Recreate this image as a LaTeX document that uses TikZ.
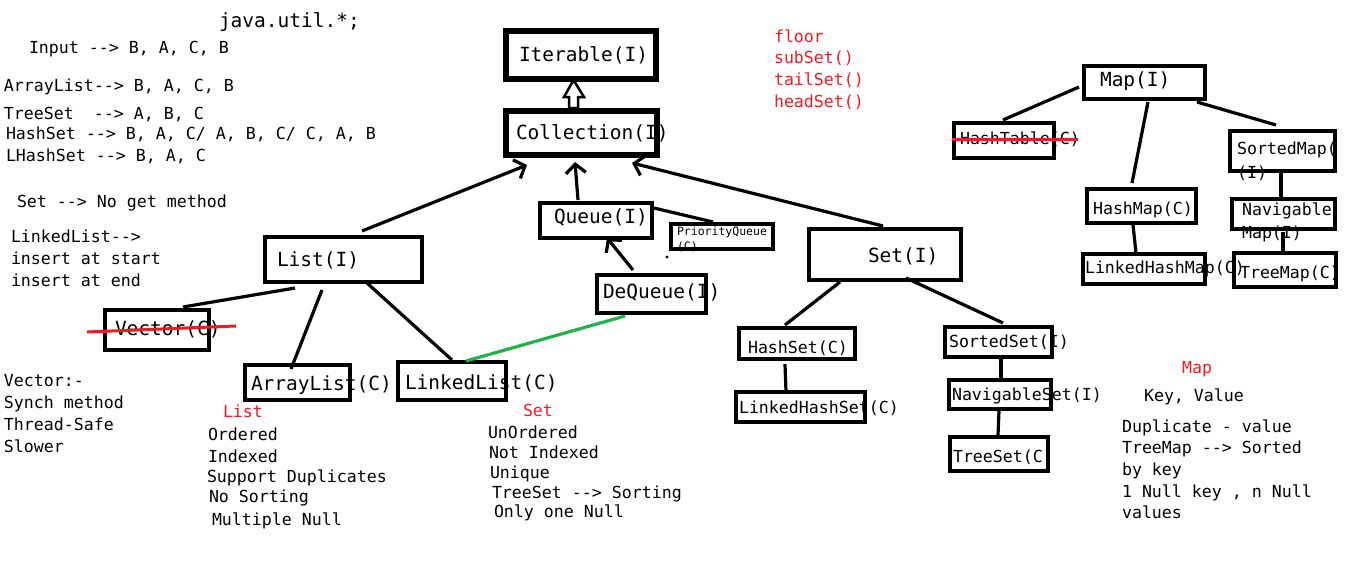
\documentclass[tikz,border=0pt]{standalone}
\usepackage{fontspec}
\setmonofont{DejaVu Sans Mono}
\usetikzlibrary{arrows.meta,calc,fit}
\definecolor{pred}{RGB}{237,28,36}
\definecolor{pgreen}{RGB}{34,177,76}
\tikzset{
 box/.style={draw, line width=3.5pt, inner sep=0pt, outer sep=0pt},
 bigbox/.style={box, line width=6pt},
 lbl/.style={anchor=base west, inner sep=0pt, outer sep=0pt, font=\ttfamily\fontsize{16.6}{20}\selectfont},
 biglbl/.style={lbl, font=\ttfamily\fontsize{19.5}{23}\selectfont},
 tinylbl/.style={lbl, font=\ttfamily\fontsize{11.5}{14}\selectfont},
 rednote/.style={lbl, text=pred},
 conn/.style={line width=3.2pt},
 arr/.style={conn, -{Straight Barb[length=9pt,width=20pt]}},
 strike/.style={pred, line width=3pt},
 hollow/.style={line width=2.5pt, fill=white, line join=miter},
}
\begin{document}
\begin{tikzpicture}[x=1pt,y=-1pt]
\useasboundingbox (0,0) rectangle (1360,568);
% ---------- boxes ----------
\node[bigbox, fit={(506,31) (656,79)}] (iter) {};
\node[bigbox, fit={(506,111) (657,155)}] (coll) {};
\node[box, fit={(540,203) (652,238)}] (queue) {};
\node[box, fit={(671,224) (773,249)}] (pq) {};
\node[box, fit={(597,275) (706,313)}] (deq) {};
\node[box, fit={(809,229) (961,280)}] (setI) {};
\node[box, fit={(265,237) (422,282)}] (list) {};
\node[box, fit={(105,310) (209,350)}] (vec) {};
\node[box, fit={(245,365) (350,400)}] (arr) {};
\node[box, fit={(398,362) (506,400)}] (ll) {};
\node[box, fit={(739,328) (855,359)}] (hs) {};
\node[box, fit={(736,392) (865,422)}] (lhs) {};
\node[box, fit={(945,327) (1052,357)}] (ss) {};
\node[box, fit={(949,380) (1051,409)}] (ns) {};
\node[box, fit={(950,437) (1048,471)}] (ts) {};
\node[box, fit={(1084,66) (1205,99)}] (map) {};
\node[box, fit={(954,123) (1054,158)}] (ht) {};
\node[box, fit={(1230,131) (1335,171)}] (sm) {};
\node[box, fit={(1087,189) (1196,223)}] (hm) {};
\node[box, fit={(1083,254) (1205,284)}] (lhm) {};
\node[box, fit={(1232,199) (1335,229)}] (nm) {};
\node[box, fit={(1234,253) (1336,287)}] (tm) {};
% ---------- box labels ----------
\node[biglbl] (tIter) at (519,61) {Iterable(I)};
\node[biglbl] (tColl) at (516,139) {Collection(I)};
\node[biglbl] (tQueue) at (554,223) {Queue(I)};
\node[tinylbl] (tPq1) at (677,235) {PriorityQueue};
\node[tinylbl] (tPq2) at (677,250) {(C)};
\node[biglbl] (tDeq) at (603,298) {DeQueue(I)};
\node[biglbl] (tSet) at (868,262) {Set(I)};
\node[biglbl] (tList) at (277,266) {List(I)};
\node[biglbl] (tVec) at (115,335) {Vector(C)};
\node[biglbl] (tArr) at (251,390) {ArrayList(C)};
\node[biglbl] (tLl) at (405,389) {LinkedList(C)};
\node[lbl] (tHs) at (748,353) {HashSet(C)};
\node[lbl] (tLhs) at (739,413) {LinkedHashSet(C)};
\node[lbl] (tSs) at (949,347) {SortedSet(I)};
\node[lbl] (tNs) at (952,400) {NavigableSet(I)};
\node[lbl] (tTs) at (953,462) {TreeSet(C)};
\node[biglbl] (tMap) at (1100,86) {Map(I)};
\node[lbl] (tHt) at (960,144) {HashTable(C)};
\node[lbl] (tSm1) at (1237,154) {SortedMap(};
\node[lbl] (tSm2) at (1237,178) {(I)};
\node[lbl] (tHm) at (1093,214) {HashMap(C)};
\node[lbl] (tLhm) at (1085,273) {LinkedHashMap(C)};
\node[lbl] (tNm1) at (1242,215) {Navigable};
\node[lbl] (tNm2) at (1242,238) {Map(I)};
\node[lbl] (tTm) at (1240,278) {TreeMap(C)};
% ---------- strike-throughs ----------
\draw[strike] ($(vec.center)+(-70,2)$) -- ($(vec.center)+(79,-4)$);
\draw[strike] ($(ht.center)+(-52,-1.5)$) -- ($(ht.center)+(74,-1.5)$);
% ---------- connectors ----------
\draw[hollow] ($(coll.center)+(-12.5,-25)$) -- ++(0,-11) -- ++(-5,0)
  -- ($(iter.center)+(-7.5,25)$) -- ($(coll.center)+(2.5,-36)$) -- ++(-6,0) -- ++(0,11) -- cycle;
\draw[arr] ($(list.center)+(18.5,-28.5)$) -- ($(coll.center)+(-54.5,32)$);
\draw[arr] ($(queue.center)+(-18,-20.5)$) -- ($(coll.center)+(-6.5,29)$);
\draw[arr] ($(setI.center)+(-2,-28.5)$) -- ($(coll.center)+(50.5,30)$);
\draw[conn] ($(queue.center)+(58,-12.5)$) -- ($(pq.center)+(-9,-14.5)$);
\draw[arr] ($(deq.center)+(-18.5,-24)$) -- ($(queue.center)+(11,17.5)$);
\draw[conn] ($(list.center)+(-48.5,28.5)$) -- ($(vec.center)+(26,-23)$);
\draw[conn] ($(list.center)+(-21.5,30.5)$) -- ($(arr.center)+(-6.5,-13.5)$);
\draw[conn] ($(list.center)+(23.5,23.5)$) -- ($(ll.center)+(0,-21)$);
\draw[conn, pgreen] ($(ll.center)+(14,-20)$) -- ($(deq.center)+(-26.5,22)$);
\draw[conn] ($(setI.center)+(-45,27.5)$) -- ($(hs.center)+(-12,-18.5)$);
\draw[conn] ($(setI.center)+(21,23.5)$) -- ($(ss.center)+(4.5,-19)$);
\draw[conn] ($(hs.center)+(-12,20.5)$) -- ($(lhs.center)+(-14.5,-15)$);
\draw[conn] ($(ss.center)+(2.5,17)$) -- ($(ns.center)+(1,-16.5)$);
\draw[conn] ($(ns.center)+(-1,16.5)$) -- ($(ts.center)+(-1,-19)$);
\draw[conn] ($(map.center)+(-65.5,4.5)$) -- ($(ht.center)+(-1,-20.5)$);
\draw[conn] ($(map.center)+(3.5,19.5)$) -- ($(hm.center)+(-9.5,-23)$);
\draw[conn] ($(map.center)+(52.5,19.5)$) -- ($(sm.center)+(-6.5,-26)$);
\draw[conn] ($(hm.center)+(-8.5,19)$) -- ($(lhm.center)+(-8,-16)$);
\draw[conn] ($(sm.center)+(-1.5,18)$) -- ($(nm.center)+(-2.5,-14)$);
\draw[conn] ($(nm.center)+(-0.5,18)$) -- ($(tm.center)+(-2,-18)$);
\fill (667,257) circle (1.6);
% ---------- free notes ----------
\node[biglbl] (jutil) at (219,27) {java.util.*;};
\node[lbl] (n1) at (29,53) {Input --> B, A, C, B};
\node[lbl] (n2) at (4,91) {ArrayList--> B, A, C, B};
\node[lbl] (n3) at (4,119) {TreeSet~~--> A, B, C};
\node[lbl] (n4) at (6,139) {HashSet --> B, A, C/ A, B, C/ C, A, B};
\node[lbl] (n5) at (6,161) {LHashSet --> B, A, C};
\node[lbl] (n6) at (17,207) {Set --> No get method};
\node[lbl] (n7) at (11,242) {LinkedList-->};
\node[lbl] (n8) at (11,264) {insert at start};
\node[lbl] (n9) at (11,286) {insert at end};
\node[lbl] (v1) at (4,386) {Vector:-};
\node[lbl] (v2) at (4,408) {Synch method};
\node[lbl] (v3) at (4,430) {Thread-Safe};
\node[lbl] (v4) at (4,452) {Slower};
\node[rednote] (lh) at (223,417) {List};
\node[lbl] (l1) at (208,440) {Ordered};
\node[lbl] (l2) at (208,462) {Indexed};
\node[lbl] (l3) at (207,482) {Support Duplicates};
\node[lbl] (l4) at (209,502) {No Sorting};
\node[lbl] (l5) at (212,525) {Multiple Null};
\node[rednote] (sh) at (523,416) {Set};
\node[lbl] (s1) at (488,438) {UnOrdered};
\node[lbl] (s2) at (489,458) {Not Indexed};
\node[lbl] (s3) at (490,478) {Unique};
\node[lbl] (s4) at (492,498) {TreeSet --> Sorting};
\node[lbl] (s5) at (494,517) {Only one Null};
\node[rednote] (r1) at (774,42) {floor};
\node[rednote] (r2) at (774,63) {subSet()};
\node[rednote] (r3) at (774,85) {tailSet()};
\node[rednote] (r4) at (774,107) {headSet()};
\node[rednote] (mh) at (1182,373) {Map};
\node[lbl] (m0) at (1144,401) {Key, Value};
\node[lbl] (m1) at (1122,432) {Duplicate - value};
\node[lbl] (m2) at (1122,453) {TreeMap --> Sorted};
\node[lbl] (m3) at (1122,475) {by key};
\node[lbl] (m4) at (1122,497) {1 Null key , n Null};
\node[lbl] (m5) at (1122,518) {values};
\end{tikzpicture}
\end{document}
